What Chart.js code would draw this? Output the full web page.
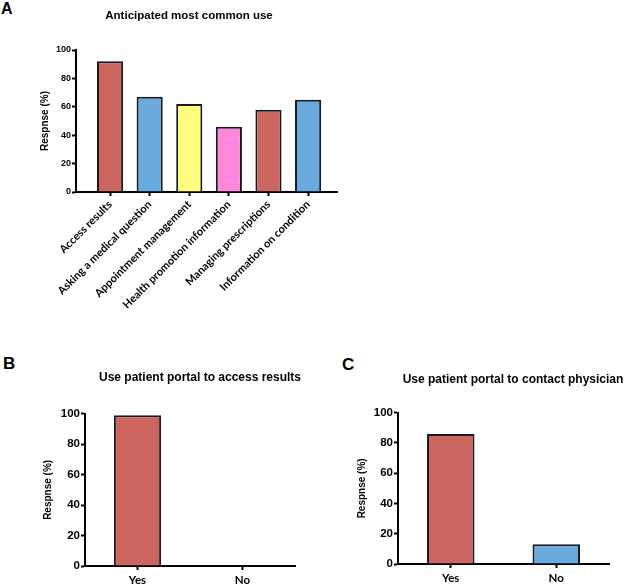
<!DOCTYPE html>
<html>
<head>
<meta charset="utf-8">
<script src="https://cdn.jsdelivr.net/npm/chart.js@4.4.1/dist/chart.umd.min.js"></script>
<style>
    html, body { margin: 0; padding: 0; width: 627px; height: 585px; overflow: hidden; background: #fff; }
    .panel-letter { position: absolute; font-family: "Liberation Sans", Arial, sans-serif; font-weight: bold; font-size: 17px; line-height: 17px; color: #000; }
    canvas { position: absolute; }
</style>
</head>
<body>
<div class="panel-letter" style="left:1px; top:1px; font-size:16px; line-height:16px;">A</div>
<div class="panel-letter" style="left:3px; top:355px;">B</div>
<div class="panel-letter" style="left:342px; top:356px;">C</div>

<canvas id="chartA" width="378" height="320" style="left:0; top:0;"></canvas>
<canvas id="chartB" width="400" height="225" style="left:0; top:360px;"></canvas>
<canvas id="chartC" width="346" height="225" style="left:340px; top:360px;"></canvas>

<script>
// 데이터
const useCategories = ['Access results', 'Asking a medical question', 'Appointment management',
    'Health promotion information', 'Managing prescriptions', 'Information on condition'];
const useValues = [92, 67, 62, 46, 58, 65];
const useColors = ['#CD6660', '#68AADE', '#FFFF7E', '#FF88DC', '#CD6660', '#68AADE'];

const yesNoLabels = ['Yes', 'No'];
const accessResultsValues = [99, 0];
const contactPhysicianValues = [86, 13];
const yesNoColors = ['#CD6660', '#68AADE'];

const yTicks = [0, 20, 40, 60, 80, 100];

const ARIAL = '"Liberation Sans", Arial, sans-serif';
const LABEL_FONT = 'Lato, "Open Sans", sans-serif';

Chart.defaults.color = '#000';
Chart.defaults.animation = false;

const axisBorder = { display: true, color: '#000', width: 2 };
const tickMarks = { display: true, offset: false, drawOnChartArea: false, drawTicks: true, tickLength: 4, tickWidth: 2, tickColor: '#000' };

function yScale(width, titlePad, tickSize) {
    return {
        min: 0,
        max: 100,
        afterBuildTicks: s => { s.ticks = yTicks.map(v => ({ value: v })); },
        afterFit: s => { s.width = width; },
        border: axisBorder,
        grid: tickMarks,
        ticks: { padding: 1, color: '#000', font: { family: ARIAL, size: tickSize, weight: 'bold' } },
        title: {
            display: true,
            text: 'Respnse (%)',
            color: '#000',
            padding: { top: titlePad, bottom: 0 },
            font: { family: ARIAL, size: 10, weight: 'bold' }
        }
    };
}

// 오른쪽 빈 공간 (제목은 캔버스 전체 폭 기준으로 가운데 정렬됨)
function spacerScale(width) {
    return {
        position: 'right',
        display: true,
        grid: { display: false },
        border: { display: false },
        ticks: { display: false },
        afterFit: s => { s.width = width; }
    };
}

function titleOpts(text, size, top, bottom) {
    return {
        display: true,
        text: text,
        color: '#000',
        font: { family: ARIAL, size: size, weight: 'bold' },
        padding: { top: top, bottom: bottom }
    };
}

// A: 선형 x축으로 축 여백을 맞춤
new Chart(document.getElementById('chartA'), {
    type: 'bar',
    data: {
        datasets: [{
            data: useValues.map((v, i) => ({ x: i, y: v })),
            backgroundColor: useColors,
            borderColor: '#1a1a1a',
            borderWidth: 2,
            barPercentage: 0.66,
            categoryPercentage: 1
        }]
    },
    options: {
        responsive: false,
        plugins: {
            legend: { display: false },
            tooltip: { enabled: false },
            title: titleOpts('Anticipated most common use', 11.5, 9, 27.2)
        },
        scales: {
            x: {
                type: 'linear',
                min: -0.86,
                max: 5.73,
                offset: false,
                afterBuildTicks: s => { s.ticks = useCategories.map((_, i) => ({ value: i })); },
                afterFit: s => { s.height = 128; },
                border: axisBorder,
                grid: tickMarks,
                ticks: {
                    autoSkip: false,
                    minRotation: 45,
                    maxRotation: 45,
                    padding: 2,
                    color: '#000',
                    font: { family: LABEL_FONT, size: 11, weight: 'bold' },
                    callback: v => useCategories[v]
                }
            },
            y: yScale(76, 39, 9),
            pad: spacerScale(41)
        }
    }
});

function renderYesNo(canvasId, title, values, opts) {
    new Chart(document.getElementById(canvasId), {
        type: 'bar',
        data: {
            labels: yesNoLabels,
            datasets: [{
                data: values,
                backgroundColor: yesNoColors,
                borderColor: '#1a1a1a',
                borderWidth: 2,
                barPercentage: 0.45,
                categoryPercentage: 1
            }]
        },
        options: {
            responsive: false,
            plugins: {
                legend: { display: false },
                tooltip: { enabled: false },
                title: titleOpts(title, 12, opts.titleTop, opts.titleBottom)
            },
            scales: {
                x: {
                    afterFit: s => { s.height = opts.xHeight; },
                    border: axisBorder,
                    grid: tickMarks,
                    ticks: { padding: 3, color: '#000', font: { family: LABEL_FONT, size: 11.5, weight: 'bold' } }
                },
                y: yScale(opts.yWidth, opts.yTitlePad, 11.5),
                pad: spacerScale(opts.right)
            }
        }
    });
}

renderYesNo('chartB', 'Use patient portal to access results', accessResultsValues,
    { right: 105, titleTop: 10.5, titleBottom: 28.8, xHeight: 19, yWidth: 85, yTitlePad: 42 });
renderYesNo('chartC', 'Use patient portal to contact physician', contactPhysicianValues,
    { right: 77, titleTop: 12.5, titleBottom: 25.8, xHeight: 21, yWidth: 58, yTitlePad: 16.5 });
</script>
</body>
</html>
